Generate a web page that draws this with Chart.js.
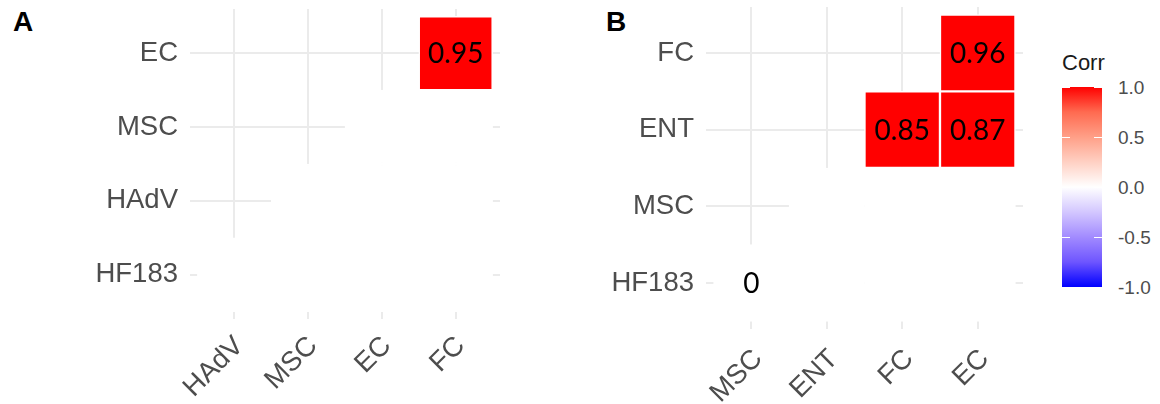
<!DOCTYPE html>
<html>
<head>
<meta charset="utf-8">
<script src="https://cdn.jsdelivr.net/npm/chart.js@4.4.1/dist/chart.umd.min.js"></script>
<style>
  body { margin: 0; background: #fff; width: 1160px; height: 404px; position: relative; overflow: hidden;
         font-family: "Liberation Sans", Arial, sans-serif; }
  canvas { position: absolute; top: 0; }
  .tag { position: absolute; font-weight: bold; font-size: 28px; line-height: 28px; color: #000; }
  #legTitle { position: absolute; left: 1062px; top: 52px; font-size: 22px; line-height: 22px; color: #1a1a1a; }
  #legBar { position: absolute; left: 1062px; top: 87px; width: 40px; height: 200px;
            background: linear-gradient(to bottom, #ff0000 0%, #ff6a50 12.5%, #ff9f87 25%, #ffd0c3 37.5%,
                        #ffffff 50%, #d3c7ff 62.5%, #a28bff 75%, #6e55ff 87.5%, #0000ff 100%); }
  .legTick { position: absolute; height: 1px; width: 8px; background: #fff; }
  .legLab { position: absolute; left: 1118px; font-size: 19px; line-height: 19px; color: #4d4d4d; }
</style>
</head>
<body>
<div class="tag" style="left:13px;top:8px">A</div>
<div class="tag" style="left:606px;top:8px">B</div>
<canvas id="panelA" width="510" height="404" style="left:0"></canvas>
<canvas id="panelB" width="520" height="404" style="left:520px"></canvas>
<div id="legTitle">Corr</div>
<div id="legBar"></div>
<script>
// panel A: columns left->right, rows bottom->top
const xLabelsA = ['HAdV', 'MSC', 'EC', 'FC'];
const yLabelsA = ['HF183', 'HAdV', 'MSC', 'EC'];
// null = not significant (blank cell)
const corrA = [
  [null, null, null, null],
  [null, null, null, null],
  [null, null, null, null],
  [null, null, null, 0.95]
];

// panel B
const xLabelsB = ['MSC', 'ENT', 'FC', 'EC'];
const yLabelsB = ['HF183', 'MSC', 'ENT', 'FC'];
const corrB = [
  [0, null, null, null],
  [null, null, null, null],
  [null, null, 0.85, 0.87],
  [null, null, null, 0.96]
];

const legendBreaks = [1.0, 0.5, 0.0, -0.5, -1.0];

const tickFont = { family: '"Liberation Sans", Arial, sans-serif', size: 27.5 };
const gridColor = '#ebebeb';

function cellFill(v) {
  if (v === null || v === 0) return '#ffffff';
  return v > 0 ? '#ff0000' : '#0000ff';
}

const cellText = {
  id: 'cellText',
  afterDatasetsDraw(chart) {
    const ctx = chart.ctx;
    const meta = chart.getDatasetMeta(0);
    const pts = chart.data.datasets[0].data;
    ctx.save();
    ctx.font = '28px Lato';
    ctx.fillStyle = '#000';
    ctx.textAlign = 'center';
    ctx.textBaseline = 'middle';
    meta.data.forEach((bar, i) => {
      const v = pts[i].v;
      if (v === null) return;
      const p = bar.getCenterPoint();
      ctx.fillText(String(v), p.x, p.y + 1);
    });
    ctx.restore();
  }
};

function heatmap(id, xLabels, yLabels, corr, g) {
  // only the triangle with column >= row is drawn
  const cells = [];
  corr.forEach((row, r) => row.forEach((v, c) => {
    if (c >= r) cells.push({ x: c + 1, y: [r + 0.5, r + 1.5], v });
  }));
  const fixTicks = s => { s.ticks = [1, 2, 3, 4].map(v => ({ value: v })); };

  new Chart(document.getElementById(id), {
    type: 'bar',
    data: {
      datasets: [{
        data: cells,
        backgroundColor: cells.map(d => cellFill(d.v)),
        borderColor: '#ffffff',
        borderWidth: 1.5,
        borderSkipped: false,
        barPercentage: 1,
        categoryPercentage: 1
      }]
    },
    options: {
      responsive: false,
      animation: false,
      layout: { padding: { top: g.top, right: g.right, left: 0, bottom: 0 } },
      plugins: { legend: { display: false }, tooltip: { enabled: false } },
      scales: {
        x: {
          type: 'linear', min: 0.4, max: 4.6, offset: false,
          afterBuildTicks: fixTicks,
          afterFit: s => { s.height = g.xh; s.paddingLeft = 0; s.paddingRight = 0; },
          border: { display: false },
          grid: { color: gridColor, lineWidth: 2, drawTicks: false, offset: false },
          ticks: {
            font: tickFont, color: '#4d4d4d', padding: g.xpad, labelOffset: g.xoff,
            minRotation: 45, maxRotation: 45, autoSkip: false,
            callback: v => xLabels[v - 1]
          }
        },
        y: {
          type: 'linear', min: 0.4, max: 4.6,
          afterBuildTicks: fixTicks,
          afterFit: s => { s.width = g.yw; s.paddingTop = 0; s.paddingBottom = 0; },
          border: { display: false },
          grid: { color: gridColor, lineWidth: 2, drawTicks: false },
          ticks: {
            font: tickFont, color: '#4d4d4d', padding: 12,
            callback: v => yLabels[v - 1]
          }
        }
      }
    },
    plugins: [cellText]
  });
}

function legend() {
  const top = 87, h = 200;
  legendBreaks.forEach(b => {
    const y = top + (1 - b) / 2 * h;
    [1062, 1094].forEach(x => {
      const t = document.createElement('div');
      t.className = 'legTick';
      t.style.left = x + 'px';
      t.style.top = (y - 0.5) + 'px';
      document.body.appendChild(t);
    });
    const lab = document.createElement('div');
    lab.className = 'legLab';
    lab.textContent = b.toFixed(1);
    lab.style.top = (y - 9.5) + 'px';
    document.body.appendChild(lab);
  });
}

Promise.all([
  document.fonts.load('28px Lato'),
  document.fonts.load('26px "Liberation Sans"'),
  document.fonts.load('bold 28px "Liberation Sans"')
]).then(() => {
  heatmap('panelA', xLabelsA, yLabelsA, corrA, { top: 9, right: 10, yw: 190, xh: 85, xpad: 11, xoff: 5 });
  heatmap('panelB', xLabelsB, yLabelsB, corrB, { top: 7, right: 17, yw: 186, xh: 75, xpad: 14, xoff: 7 });
  legend();
});
</script>
</body>
</html>
